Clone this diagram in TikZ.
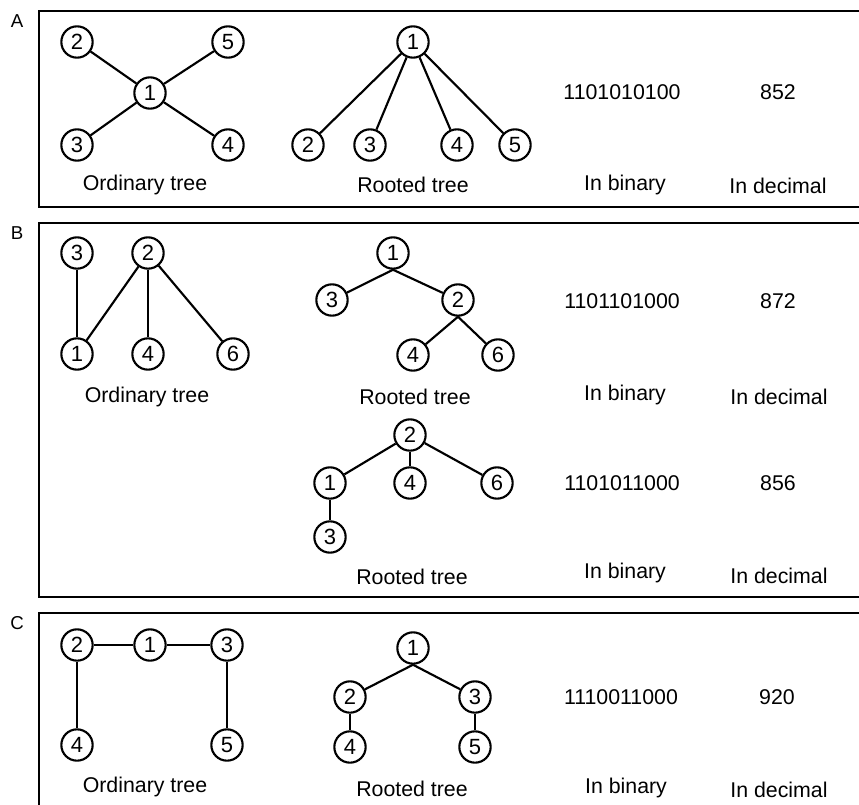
\documentclass[tikz,border=0pt]{standalone}
\usepackage{fontspec}
\setmainfont{Liberation Sans}
\begin{document}
\begin{tikzpicture}[x=0.75pt,y=-0.75pt,
  nd/.style={circle,draw,line width=1.6pt,minimum size=23.5pt,inner sep=0pt,font=\fontsize{16.5}{18}\selectfont},
  ed/.style={line width=1.6pt},
  txt/.style={font=\fontsize{16}{18}\selectfont,inner sep=0pt},
  panel/.style={line width=1.3pt},
  lbl/.style={font=\fontsize{14}{16}\selectfont,inner sep=0pt}]
\useasboundingbox (0,0) rectangle (859,805);
\clip (0,0) rectangle (859,805);

% panels
\draw[panel] (39,11) rectangle (880,207);
\draw[panel] (39,223) rectangle (880,597);
\draw[panel] (39,613) rectangle (880,840);
\node[lbl] (labA) at (17,21) {A};
\node[lbl] (labB) at (17,233) {B};
\node[lbl] (labC) at (17,623) {C};

% ---------- Panel A ----------
\node[nd] (ao2) at (77,42) {2};
\node[nd] (ao5) at (228,42) {5};
\node[nd] (ao1) at (150,93) {1};
\node[nd] (ao3) at (77,145) {3};
\node[nd] (ao4) at (228,145) {4};
\draw[ed] (ao1) -- (ao2);
\draw[ed] (ao1) -- (ao5);
\draw[ed] (ao1) -- (ao3);
\draw[ed] (ao1) -- (ao4);
\node[txt] (aot) at (145,185) {Ordinary tree};

\node[nd] (ar1) at (413,42) {1};
\node[nd] (ar2) at (308,145) {2};
\node[nd] (ar3) at (370,145) {3};
\node[nd] (ar4) at (457,145) {4};
\node[nd] (ar5) at (515,145) {5};
\draw[ed] (ar1) -- (ar2);
\draw[ed] (ar1) -- (ar3);
\draw[ed] (ar1) -- (ar4);
\draw[ed] (ar1) -- (ar5);
\node[txt] (art) at (413,185) {Rooted tree};

\node[txt] (abin) at (622,92) {1101010100};
\node[txt] (adec) at (778,92) {852};
\node[txt] (abl) at (625,185) {In binary};
\node[txt] (adl) at (778,186) {In decimal};

% ---------- Panel B ----------
\node[nd] (bo3) at (77,253) {3};
\node[nd] (bo2) at (148,253) {2};
\node[nd] (bo1) at (77,354) {1};
\node[nd] (bo4) at (148,354) {4};
\node[nd] (bo6) at (233,354) {6};
\draw[ed] (bo3) -- (bo1);
\draw[ed] (bo2) -- (bo1);
\draw[ed] (bo2) -- (bo4);
\draw[ed] (bo2) -- (bo6);
\node[txt] (bot) at (147,397) {Ordinary tree};

\node[nd] (br1) at (393,253) {1};
\node[nd] (br3) at (332,300) {3};
\node[nd] (br2) at (458,300) {2};
\node[nd] (br4) at (413,355) {4};
\node[nd] (br6) at (498,355) {6};
\draw[ed] (br1.south) -- (br3);
\draw[ed] (br1.south) -- (br2);
\draw[ed] (br2.south) -- (br4);
\draw[ed] (br2.south) -- (br6);
\node[txt] (brt) at (415,397) {Rooted tree};

\node[txt] (bbin) at (622,301) {1101101000};
\node[txt] (bdec) at (778,301) {872};
\node[txt] (bbl) at (625,395) {In binary};
\node[txt] (bdl) at (779,397) {In decimal};

\node[nd] (bs2) at (410,435) {2};
\node[nd] (bs1) at (330,483) {1};
\node[nd] (bs4) at (410,483) {4};
\node[nd] (bs6) at (497,483) {6};
\node[nd] (bs3) at (330,537) {3};
\draw[ed] (bs2) -- (bs1);
\draw[ed] (bs2) -- (bs4);
\draw[ed] (bs2) -- (bs6);
\draw[ed] (bs1) -- (bs3);
\node[txt] (bst) at (412,577) {Rooted tree};

\node[txt] (bbin2) at (622,483) {1101011000};
\node[txt] (bdec2) at (778,483) {856};
\node[txt] (bbl2) at (625,573) {In binary};
\node[txt] (bdl2) at (779,576) {In decimal};

% ---------- Panel C ----------
\node[nd] (co2) at (77,645) {2};
\node[nd] (co1) at (150,645) {1};
\node[nd] (co3) at (227,645) {3};
\node[nd] (co4) at (77,745) {4};
\node[nd] (co5) at (227,745) {5};
\draw[ed] (co2) -- (co1);
\draw[ed] (co1) -- (co3);
\draw[ed] (co2) -- (co4);
\draw[ed] (co3) -- (co5);
\node[txt] (cot) at (145,787) {Ordinary tree};

\node[nd] (cr1) at (413,648) {1};
\node[nd] (cr2) at (350,697) {2};
\node[nd] (cr3) at (475,697) {3};
\node[nd] (cr4) at (350,747) {4};
\node[nd] (cr5) at (475,747) {5};
\draw[ed] (cr1.south) -- (cr2);
\draw[ed] (cr1.south) -- (cr3);
\draw[ed] (cr2) -- (cr4);
\draw[ed] (cr3) -- (cr5);
\node[txt] (crt) at (412,789) {Rooted tree};

\node[txt] (cbin) at (621,697) {1110011000};
\node[txt] (cdec) at (777,697) {920};
\node[txt] (cbl) at (626,788) {In binary};
\node[txt] (cdl) at (779,790) {In decimal};
\end{tikzpicture}
\end{document}
